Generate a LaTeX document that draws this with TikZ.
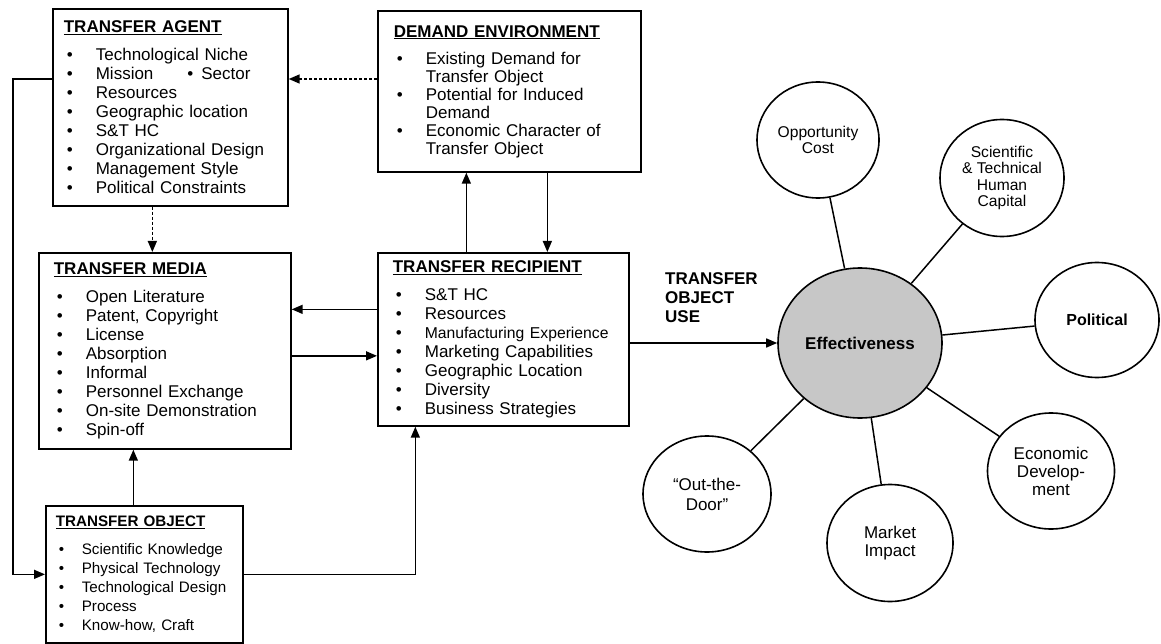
\documentclass[tikz,border=0pt]{standalone}
\usepackage{fontspec}
\setmainfont{Liberation Sans}
\usetikzlibrary{arrows.meta,shapes.geometric}

\newcommand{\bodysize}{\fontsize{17}{19}\selectfont}
\newcommand{\smallsize}{\fontsize{15.6}{16.5}\selectfont}
\newlength{\itmgap}\setlength{\itmgap}{29pt}
\newcommand{\itm}{\hspace*{3pt}\makebox[\itmgap][l]{\textbullet}}
\newcommand{\boxhead}[1]{\underline{\textbf{#1}}}

\begin{document}
\begin{tikzpicture}[x=1pt,y=-1pt,
  box/.style={draw, line width=1.7pt, anchor=north west, align=left, inner ysep=0pt, font=\bodysize},
  bubble/.style={ellipse, draw, line width=1.6pt, align=center, inner sep=0pt, font=\bodysize},
  arr/.style={line width=1.5pt, -{Triangle[length=11pt,width=9pt]}},
  link/.style={line width=1.5pt}]
\useasboundingbox (0,0) rectangle (1161,644);
% boxes
\node[box, inner xsep=11pt, minimum width=235pt, minimum height=197pt, text width=213pt] (agent) at (52,8)
  {\boxhead{TRANSFER AGENT}\\[9pt]
   \itm Technological Niche\\
   \itm Mission\hspace{34pt}\textbullet\hspace{8pt}Sector\\
   \itm Resources\\
   \itm Geographic location\\
   \itm S\&T HC\\
   \itm Organizational Design\\
   \itm Management Style\\
   \itm Political Constraints};
\node[box, inner xsep=16pt, minimum width=263pt, minimum height=161pt, text width=231pt,
      font=\fontsize{17}{18}\selectfont] (demand) at (377,10)
  {\boxhead{DEMAND ENVIRONMENT}\\[9pt]
   \itm Existing Demand for\\
   \hspace*{3pt}\hspace*{\itmgap}Transfer Object\\
   \itm Potential for Induced\\
   \hspace*{3pt}\hspace*{\itmgap}Demand\\
   \itm Economic Character of\\
   \hspace*{3pt}\hspace*{\itmgap}Transfer Object};
\node[box, inner xsep=15pt, minimum width=252pt, minimum height=196pt, text width=222pt] (media) at (38,252)
  {\boxhead{TRANSFER MEDIA}\\[9pt]
   \itm Open Literature\\
   \itm Patent, Copyright\\
   \itm License\\
   \itm Absorption\\
   \itm Informal\\
   \itm Personnel Exchange\\
   \itm On-site Demonstration\\
   \itm Spin-off};
\node[box, inner xsep=15pt, minimum width=251pt, minimum height=173pt, text width=221pt] (recip) at (377,252)
  {\boxhead{TRANSFER RECIPIENT}\\[9pt]
   \itm S\&T HC\\
   \itm Resources\\
   \itm {\fontsize{15.7}{19}\selectfont Manufacturing Experience}\\
   \itm Marketing Capabilities\\
   \itm Geographic Location\\
   \itm Diversity\\
   \itm Business Strategies};
\node[box, inner xsep=10pt, minimum width=197pt, minimum height=137pt, text width=177pt,
      font=\fontsize{15.2}{19}\selectfont\setlength{\itmgap}{23pt}] (object) at (45,505)
  {\boxhead{TRANSFER OBJECT}\\[9pt]
   \itm Scientific Knowledge\\
   \itm Physical Technology\\
   \itm Technological Design\\
   \itm Process\\
   \itm Know-how, Craft};
% links between boxes
\path (agent.north west) ++(0,71) coordinate (aL);
\draw[arr] (aL) -- ++(-39,0) |- (object.west);
\draw[arr, dash pattern=on 3pt off 2pt] (aL -| demand.west) -- (aL -| agent.east);
\draw[arr, dash pattern=on 3pt off 2pt] ([xshift=-18pt]agent.south) -- ([xshift=-18pt]agent.south |- media.north);
\draw[arr] ([xshift=-37pt]recip.north) -- ([xshift=-37pt]recip.north |- demand.south);
\draw[arr] ([xshift=38pt]demand.south) -- ([xshift=38pt]demand.south |- recip.north);
\draw[arr] ([yshift=30pt]recip.west) -- ([yshift=30pt]recip.west -| media.east);
\draw[arr] ([yshift=-5pt]media.east) -- ([yshift=-5pt]media.east -| recip.west);
\draw[arr] ([xshift=-11pt]object.north) -- ([xshift=-11pt]object.north |- media.south);
\draw[arr] (object.east) -| ([xshift=-88pt]recip.south);
% effectiveness
\node[bubble, fill=black!22, minimum width=164pt, minimum height=150pt, font=\bodysize\bfseries] (eff) at (860,343) {Effectiveness};
\node[bubble, minimum width=122pt, minimum height=116pt, font=\smallsize] (opp) at (818,140) {Opportunity\\Cost};
\node[bubble, minimum width=124pt, minimum height=117pt, font=\smallsize] (sci) at (1002,178) {Scientific\\\&~Technical\\Human\\Capital};
\node[bubble, minimum width=124pt, minimum height=115pt, font=\fontsize{16}{18}\selectfont\bfseries] (pol) at (1097,320) {Political};
\node[bubble, minimum width=127pt, minimum height=116pt, font=\fontsize{17}{18}\selectfont] (eco) at (1051,471) {Economic\\Develop-\\ment};
\node[bubble, minimum width=126pt, minimum height=117pt, font=\fontsize{17}{18}\selectfont] (mkt) at (890,543) {Market\\Impact};
\node[bubble, minimum width=128pt, minimum height=116pt, font=\fontsize{17}{20}\selectfont] (door) at (707,494) {``Out-the-\\Door''};
\foreach \c in {opp,sci,pol,eco,mkt,door}
  \draw[link] (eff) -- (\c);
\draw[arr] (eff.west -| recip.east) -- (eff.west);
\node[anchor=north west, align=left, inner sep=0pt, font=\fontsize{17}{19}\selectfont\bfseries] (use) at (665,272) {TRANSFER\\OBJECT\\USE};
\end{tikzpicture}
\end{document}
